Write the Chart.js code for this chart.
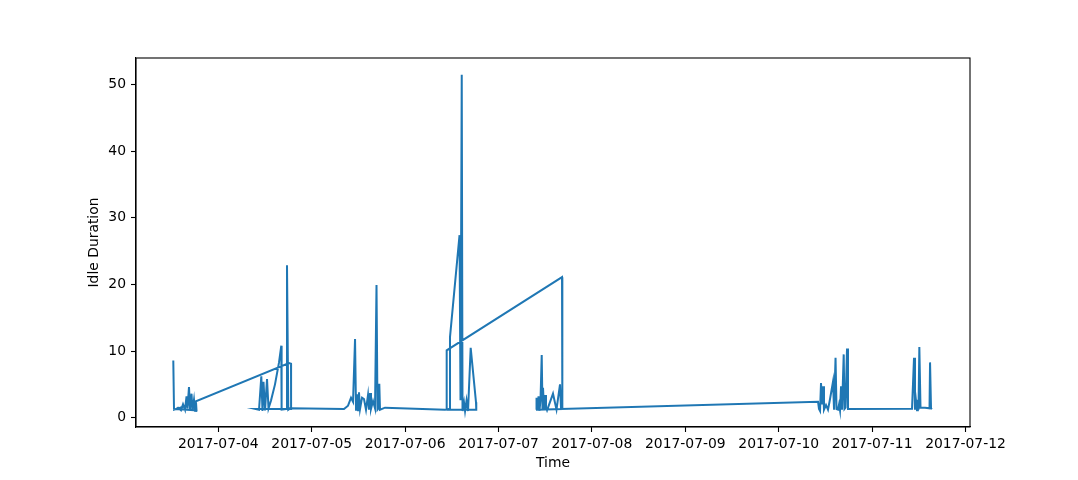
<!DOCTYPE html>
<html>
<head>
<meta charset="utf-8">
<title>Idle Duration</title>
<script src="https://cdn.jsdelivr.net/npm/chart.js@4.4.1/dist/chart.umd.min.js"></script>
<style>
  html, body { margin: 0; padding: 0; background: #ffffff; }
  #wrap { width: 1078px; height: 480px; }
</style>
</head>
<body>
<div id="wrap"><canvas id="idleChart" width="1078" height="480"></canvas></div>
<script>
// 1. DATA (in log order, the log is not sorted by time)
const times = [
    // 07-03
    "2017-07-03 12:26", "2017-07-03 12:37", "2017-07-03 13:08", "2017-07-03 13:39", "2017-07-03 14:25",
    "2017-07-03 14:56", "2017-07-03 15:27", "2017-07-03 15:50", "2017-07-03 16:05", "2017-07-03 16:28",
    "2017-07-03 16:44", "2017-07-03 17:07", "2017-07-03 17:22", "2017-07-03 17:45", "2017-07-03 18:01",
    "2017-07-03 18:16", "2017-07-03 18:24", "2017-07-03 13:23",
    "2017-07-04 18:10", "2017-07-04 18:41", "2017-07-04 18:42",
    // 07-04
    "2017-07-04 09:41", "2017-07-04 10:28", "2017-07-04 11:03", "2017-07-04 11:21", "2017-07-04 11:37",
    "2017-07-04 12:00", "2017-07-04 12:31", "2017-07-04 12:54", "2017-07-04 13:33", "2017-07-04 14:34",
    "2017-07-04 15:36", "2017-07-04 16:11", "2017-07-04 16:16", "2017-07-04 17:24", "2017-07-04 17:39",
    "2017-07-04 17:59", "2017-07-04 18:25",
    // 07-05
    "2017-07-05 08:18", "2017-07-05 09:20", "2017-07-05 10:06", "2017-07-05 10:37", "2017-07-05 11:08",
    "2017-07-05 11:23", "2017-07-05 11:38", "2017-07-05 11:54", "2017-07-05 12:09", "2017-07-05 12:25",
    "2017-07-05 12:56", "2017-07-05 13:26", "2017-07-05 13:57", "2017-07-05 14:28", "2017-07-05 14:43",
    "2017-07-05 14:59", "2017-07-05 15:14", "2017-07-05 15:45", "2017-07-05 16:16", "2017-07-05 16:39",
    "2017-07-05 16:54", "2017-07-05 17:10", "2017-07-05 17:22", "2017-07-05 17:33", "2017-07-05 18:50",
    // 07-06
    "2017-07-06 10:15", "2017-07-06 11:17", "2017-07-06 11:32", "2017-07-06 13:59", "2017-07-06 14:14",
    "2017-07-06 14:33", "2017-07-06 14:45", "2017-07-06 15:08", "2017-07-06 15:24", "2017-07-06 15:47",
    "2017-07-06 16:10", "2017-07-06 16:51", "2017-07-06 18:13", "2017-07-06 18:17", "2017-07-06 10:38",
    "2017-07-06 10:41", "2017-07-07 16:19", "2017-07-07 16:24",
    // 07-07
    "2017-07-07 09:38", "2017-07-07 09:46", "2017-07-07 10:01", "2017-07-07 10:17", "2017-07-07 10:32",
    "2017-07-07 10:48", "2017-07-07 11:06", "2017-07-07 11:18", "2017-07-07 11:26", "2017-07-07 11:42",
    "2017-07-07 11:57", "2017-07-07 12:12", "2017-07-07 12:28", "2017-07-07 14:00", "2017-07-07 14:54",
    "2017-07-07 15:48", "2017-07-07 16:04",
    // 07-10
    "2017-07-10 10:06", "2017-07-10 10:21", "2017-07-10 10:37", "2017-07-10 10:52", "2017-07-10 11:08",
    "2017-07-10 11:23", "2017-07-10 11:38", "2017-07-10 12:09", "2017-07-10 12:40", "2017-07-10 13:11",
    "2017-07-10 13:57", "2017-07-10 14:13", "2017-07-10 14:36", "2017-07-10 14:51", "2017-07-10 15:14",
    "2017-07-10 15:30", "2017-07-10 15:45", "2017-07-10 16:01", "2017-07-10 16:16", "2017-07-10 16:42",
    "2017-07-10 16:54", "2017-07-10 17:10", "2017-07-10 17:33", "2017-07-10 17:48",
    // 07-11
    "2017-07-11 10:15", "2017-07-11 10:46", "2017-07-11 11:01", "2017-07-11 11:17", "2017-07-11 11:32",
    "2017-07-11 11:45", "2017-07-11 11:55", "2017-07-11 12:08", "2017-07-11 12:26", "2017-07-11 13:36",
    "2017-07-11 14:45", "2017-07-11 14:53", "2017-07-11 15:08", "2017-07-11 15:24"
];

const idleDuration = [
    // 07-03
    8.6, 1.2, 1.3, 1.5, 1.1,
    2.0, 1.2, 3.2, 1.4, 4.6,
    1.2, 3.6, 1.1, 2.7, 1.0,
    2.3, 1.1, 1.3,
    8.2, 8.1, 1.3,
    // 07-04
    1.3, 1.2, 6.2, 1.0, 5.4,
    1.1, 5.8, 1.4, 2.6, 5.0,
    8.3, 10.8, 1.2, 1.3, 22.9,
    1.2, 1.4,
    // 07-05
    1.3, 1.8, 3.0, 2.4, 11.8,
    1.2, 3.5, 1.1, 3.8, 1.3,
    3.0, 2.8, 1.2, 3.4, 1.2,
    3.7, 1.3, 2.5, 1.4, 19.9,
    1.2, 1.4, 5.1, 1.2, 1.5,
    // 07-06
    1.2, 1.3, 12.1, 27.4, 2.6,
    51.5, 1.0, 2.3, 1.0, 2.6,
    1.0, 10.5, 2.3, 1.2, 1.2,
    10.1, 21.1, 1.3,
    // 07-07
    1.2, 3.0, 1.1, 3.2, 1.0,
    2.8, 9.4, 1.3, 4.5, 1.2,
    3.4, 1.5, 1.1, 3.6, 1.2,
    5.0, 1.3,
    // 07-10
    2.4, 1.3, 1.0, 5.2, 2.0,
    4.7, 1.2, 1.9, 1.2, 2.8,
    5.4, 1.2, 9.0, 1.3, 1.2,
    2.0, 1.1, 4.7, 1.2, 9.5,
    1.3, 1.5, 10.4, 1.3,
    // 07-11
    1.35, 9.0, 1.2, 2.5, 1.1,
    2.7, 1.2, 10.6, 1.5, 1.5,
    1.4, 8.3, 1.4, 1.3
];

const xTickLabels = ["2017-07-04", "2017-07-05", "2017-07-06", "2017-07-07", "2017-07-08",
                     "2017-07-09", "2017-07-10", "2017-07-11", "2017-07-12"];
const yTickValues = [0, 10, 20, 30, 40, 50];

// timestamps are read as UTC so the day ticks land on midnight
function toMs(s) {
    return Date.parse(s.replace(" ", "T") + ":00Z");
}

const points = times.map((t, i) => ({ x: toMs(t), y: idleDuration[i] }));

// 2. CHART
const axisFont = { family: "'DejaVu Sans', sans-serif", size: 13.9 };

// matplotlib draws all four spines, Chart.js only left and bottom
const frame = {
    id: "frame",
    afterDraw(chart) {
        const { ctx, chartArea: a } = chart;
        ctx.save();
        ctx.strokeStyle = "#000";
        ctx.lineWidth = 1.1;
        ctx.strokeRect(a.left, a.top, a.right - a.left, a.bottom - a.top);
        ctx.restore();
    }
};

new Chart(document.getElementById("idleChart"), {
    type: "line",
    data: {
        datasets: [{
            label: "Idle Duration",
            data: points,
            borderColor: "#1f77b4",
            borderWidth: 2,
            pointRadius: 0,
            tension: 0,
            fill: false
        }]
    },
    options: {
        responsive: false,
        animation: false,
        devicePixelRatio: 1,
        layout: { padding: { left: 80, right: 108, top: 58, bottom: 0 } },
        plugins: { legend: { display: false }, tooltip: { enabled: false } },
        scales: {
            x: {
                type: "linear",
                min: toMs("2017-07-03 02:51"),
                max: toMs("2017-07-12 01:09"),
                afterBuildTicks: s => { s.ticks = xTickLabels.map(t => ({ value: toMs(t + " 00:00") })); },
                afterFit: s => { s.height = 53; },
                grid: { drawOnChartArea: false, tickLength: 5, tickWidth: 1.1, tickColor: "#000" },
                border: { color: "#000", width: 1.1 },
                ticks: {
                    color: "#000", font: axisFont, padding: 4,
                    maxRotation: 0, autoSkip: false,
                    callback: (v, i) => xTickLabels[i]
                },
                title: { display: true, text: "Time", color: "#000", font: axisFont, padding: { top: 0, bottom: 8 } }
            },
            y: {
                min: -1.4,
                max: 54,
                afterBuildTicks: s => { s.ticks = yTickValues.map(v => ({ value: v })); },
                afterFit: s => { s.width = 56; },
                grid: { drawOnChartArea: false, tickLength: 5, tickWidth: 1.1, tickColor: "#000" },
                border: { color: "#000", width: 1.1 },
                ticks: { color: "#000", font: axisFont, padding: 5 },
                title: { display: true, text: "Idle Duration", color: "#000", font: axisFont, padding: { top: 6, bottom: 0 } }
            }
        }
    },
    plugins: [frame]
});
</script>
</body>
</html>
